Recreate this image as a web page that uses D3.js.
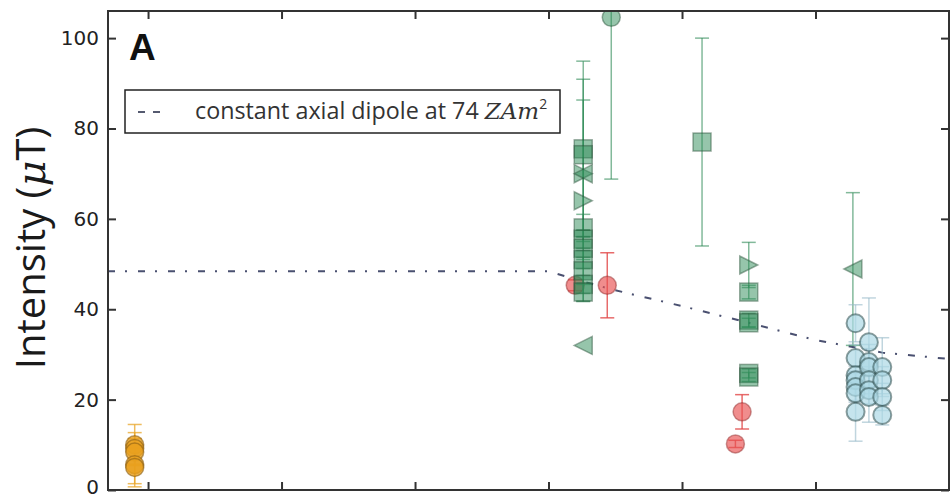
<!DOCTYPE html>
<html>
<head>
<meta charset="utf-8">
<script src="https://cdn.jsdelivr.net/npm/d3@7"></script>
<style>
  html, body { margin: 0; padding: 0; background: #fff; }
  svg { display: block; }
</style>
</head>
<body>
<svg id="chart" width="950" height="497"></svg>
<script>
// ---------- data ----------
const xTicks = [0, 1, 2, 3, 4, 5, 6];
const yTicks = [0, 20, 40, 60, 80, 100];

const dipoleX = [-0.3, 3.0, 3.25, 3.5, 4.0, 4.5, 5.0, 5.5, 6.0];
const dipoleY = [48.4, 48.4, 46.2, 44.2, 40.7, 37.0, 33.2, 30.4, 29.0];

const orangeX = [-0.1, -0.1, -0.1, -0.1, -0.1];
const orangeY = [10.0, 9.2, 8.4, 5.6, 5.0];
const orangeErr = [4.5, 3.5, 3.0, 4.2, 4.3];

const redX = [3.2, 3.44, 4.40, 4.45];
const redY = [45.3, 45.3, 10.2, 17.3];
const redErr = [1.2, 7.2, 0.8, 3.8];

const greenSquareX = [3.26, 3.26, 3.26, 3.26, 3.26, 3.26, 3.26, 3.26, 3.26, 4.15, 4.5, 4.5, 4.5, 4.5, 4.5];
const greenSquareY = [75.5, 74.2, 58.0, 55.5, 53.5, 51.0, 48.5, 45.5, 43.8, 77.0, 43.8, 37.6, 37.0, 25.8, 25.0];
const greenSquareErr = [19.4, 16.7, 3.0, 2.0, 2.5, 2.0, 3.0, 2.0, 2.0, 23.0, 1.5, 1.5, 1.0, 1.0, 1.0];

const greenTriRightX = [3.26, 3.26, 4.5];
const greenTriRightY = [70.0, 64.0, 49.8];
const greenTriRightErr = [0, 22.3, 5.0];

const greenTriLeftX = [3.26, 3.26, 5.28];
const greenTriLeftY = [70.0, 32.0, 48.9];
const greenTriLeftErr = [0, 0, 16.9];

const greenCircleX = [3.47];
const greenCircleY = [104.6];
const greenCircleErr = [35.8];

const blueX = [5.30, 5.30, 5.30, 5.30, 5.30, 5.30, 5.30,
               5.40, 5.40, 5.40, 5.40, 5.40, 5.40,
               5.50, 5.50, 5.50, 5.50];
const blueY = [36.9, 29.2, 25.4, 24.3, 22.8, 21.4, 17.3,
               32.7, 28.3, 27.2, 24.3, 22.1, 20.6,
               27.2, 24.3, 20.6, 16.6];
const blueErr = [4.1, 3.0, 2.0, 2.0, 3.0, 2.0, 6.5,
                 9.8, 3.0, 5.0, 3.0, 3.0, 5.6,
                 6.5, 3.0, 3.0, 2.2];

const yLabel = "Intensity (";
const legendText = "constant axial dipole at 74 ";
const panelLabel = "A";

// ---------- layout ----------
const L = 108, R = 949, T = 11, B = 490;
const svg = d3.select("#chart");
const x = d3.scaleLinear().domain([-0.3, 6.0]).range([L, R]);
const y = d3.scaleLinear().domain([0, 106]).range([B, T]);

const zip = (xs, ys, es) => xs.map((v, i) => ({x: v, y: ys[i], e: es ? es[i] : 0}));

svg.append("defs").append("clipPath").attr("id", "clip")
  .append("rect").attr("x", L).attr("y", T).attr("width", R - L).attr("height", B - T);

const plot = svg.append("g").attr("clip-path", "url(#clip)");

// dipole line
plot.append("path")
  .datum(zip(dipoleX, dipoleY))
  .attr("fill", "none")
  .attr("stroke", "#4a5070")
  .attr("stroke-width", 2)
  .attr("stroke-dasharray", "7,10,2,11")
  .attr("d", d3.line().x(d => x(d.x)).y(d => y(d.y)));

function errorBars(g, data, color, width) {
  const cw = 7;
  const eb = g.append("g").attr("stroke", color).attr("stroke-width", width).attr("fill", "none");
  data.filter(d => d.e > 0).forEach(d => {
    const cx = x(d.x), y1 = y(d.y + d.e), y0 = y(d.y - d.e);
    eb.append("line").attr("x1", cx).attr("x2", cx).attr("y1", y1).attr("y2", y0);
    eb.append("line").attr("x1", cx - cw).attr("x2", cx + cw).attr("y1", y1).attr("y2", y1);
    eb.append("line").attr("x1", cx - cw).attr("x2", cx + cw).attr("y1", y0).attr("y2", y0);
  });
}

function markers(g, data, type, fill, stroke, sw) {
  const s = 9;
  data.forEach(d => {
    const cx = x(d.x), cy = y(d.y);
    let el;
    if (type === "circle") {
      el = g.append("circle").attr("cx", cx).attr("cy", cy).attr("r", s);
    } else if (type === "square") {
      el = g.append("rect").attr("x", cx - s).attr("y", cy - s).attr("width", 2 * s).attr("height", 2 * s);
    } else if (type === "right") {
      el = g.append("path").attr("d", `M${cx + s},${cy} L${cx - s},${cy - s} L${cx - s},${cy + s} Z`);
    } else if (type === "left") {
      el = g.append("path").attr("d", `M${cx - s},${cy} L${cx + s},${cy - s} L${cx + s},${cy + s} Z`);
    }
    el.attr("fill", fill).attr("stroke", stroke).attr("stroke-width", sw);
  });
}

// orange
const orange = zip(orangeX, orangeY, orangeErr);
errorBars(plot, orange, "rgba(232,165,40,0.75)", 1.5);
markers(plot, orange, "circle", "rgba(232,160,30,0.8)", "rgba(140,95,20,0.6)", 1.5);

// red
const red = zip(redX, redY, redErr);
errorBars(plot, red, "rgba(225,70,70,0.8)", 1.5);
markers(plot, red, "circle", "rgba(232,80,80,0.65)", "rgba(150,50,50,0.5)", 1.5);

// green
const gS = zip(greenSquareX, greenSquareY, greenSquareErr);
const gR = zip(greenTriRightX, greenTriRightY, greenTriRightErr);
const gL = zip(greenTriLeftX, greenTriLeftY, greenTriLeftErr);
const gC = zip(greenCircleX, greenCircleY, greenCircleErr);
const gEb = "rgba(46,139,87,0.6)";
errorBars(plot, gS, gEb, 1.5);
errorBars(plot, gR, gEb, 1.5);
errorBars(plot, gL, gEb, 1.5);
errorBars(plot, gC, gEb, 1.5);
const gFill = "rgba(46,139,87,0.5)", gStroke = "rgba(40,80,55,0.45)";
markers(plot, gS, "square", gFill, gStroke, 1.5);
markers(plot, gR, "right", gFill, gStroke, 1.5);
markers(plot, gL, "left", gFill, gStroke, 1.5);
markers(plot, gC, "circle", gFill, gStroke, 1.5);

// blue
const blue = zip(blueX, blueY, blueErr);
errorBars(plot, blue, "rgba(150,185,200,0.6)", 1.5);
markers(plot, blue, "circle", "rgba(173,216,230,0.7)", "rgba(47,79,79,0.55)", 2);

// ---------- axes ----------
const tickColor = "#333";
function styleAxis(g) {
  g.select(".domain").remove();
  g.selectAll(".tick line").attr("stroke", tickColor).attr("stroke-width", 2);
}
svg.append("g").attr("transform", `translate(${L},0)`)
  .call(d3.axisLeft(y).tickValues(yTicks).tickSize(-8).tickPadding(9))
  .call(styleAxis)
  .call(g => g.selectAll(".tick text")
    .attr("fill", "#222").attr("font-size", 20).attr("font-family", "DejaVu Sans")
    .attr("dy", d => d === 0 ? "0.15em" : "0.32em"));
svg.append("g").attr("transform", `translate(${R},0)`)
  .call(d3.axisRight(y).tickValues(yTicks).tickSize(-8).tickFormat(""))
  .call(styleAxis);
svg.append("g").attr("transform", `translate(0,${T})`)
  .call(d3.axisTop(x).tickValues(xTicks).tickSize(-8).tickFormat(""))
  .call(styleAxis);
svg.append("g").attr("transform", `translate(0,${B})`)
  .call(d3.axisBottom(x).tickValues(xTicks).tickSize(-8).tickFormat(""))
  .call(styleAxis);

// frame
svg.append("rect").attr("x", L).attr("y", T).attr("width", R - L).attr("height", B - T)
  .attr("fill", "none").attr("stroke", "#333").attr("stroke-width", 2);

// y label
const yl = svg.append("text")
  .attr("transform", "translate(45,248) rotate(-90)")
  .attr("text-anchor", "middle")
  .attr("font-family", "Open Sans")
  .attr("font-size", 40)
  .attr("fill", "#1a1a1a");
yl.append("tspan").text(yLabel);
yl.append("tspan").attr("font-family", "DejaVu Serif").attr("font-style", "italic").text("μ");
yl.append("tspan").text("T)");

// panel label
svg.append("text").attr("x", 129).attr("y", 60)
  .attr("font-family", "Liberation Sans").attr("font-weight", "bold")
  .attr("font-size", 37).attr("fill", "#111").text(panelLabel);

// legend
const lg = svg.append("g");
lg.append("rect").attr("x", 125).attr("y", 90).attr("width", 435).attr("height", 43)
  .attr("fill", "#fff").attr("stroke", "#222").attr("stroke-width", 1.5);
lg.append("line").attr("x1", 138).attr("x2", 160).attr("y1", 112).attr("y2", 112)
  .attr("stroke", "#555a70").attr("stroke-width", 2).attr("stroke-dasharray", "7,8");
const lt = lg.append("text").attr("x", 195).attr("y", 119)
  .attr("font-family", "Open Sans").attr("font-size", 23.3).attr("fill", "#333");
lt.append("tspan").text(legendText);
lt.append("tspan").attr("font-family", "DejaVu Serif").attr("font-style", "italic")
  .attr("font-size", 23).text("ZAm");
lt.append("tspan").attr("font-size", 14).attr("dy", -10).text("2");
</script>
</body>
</html>
